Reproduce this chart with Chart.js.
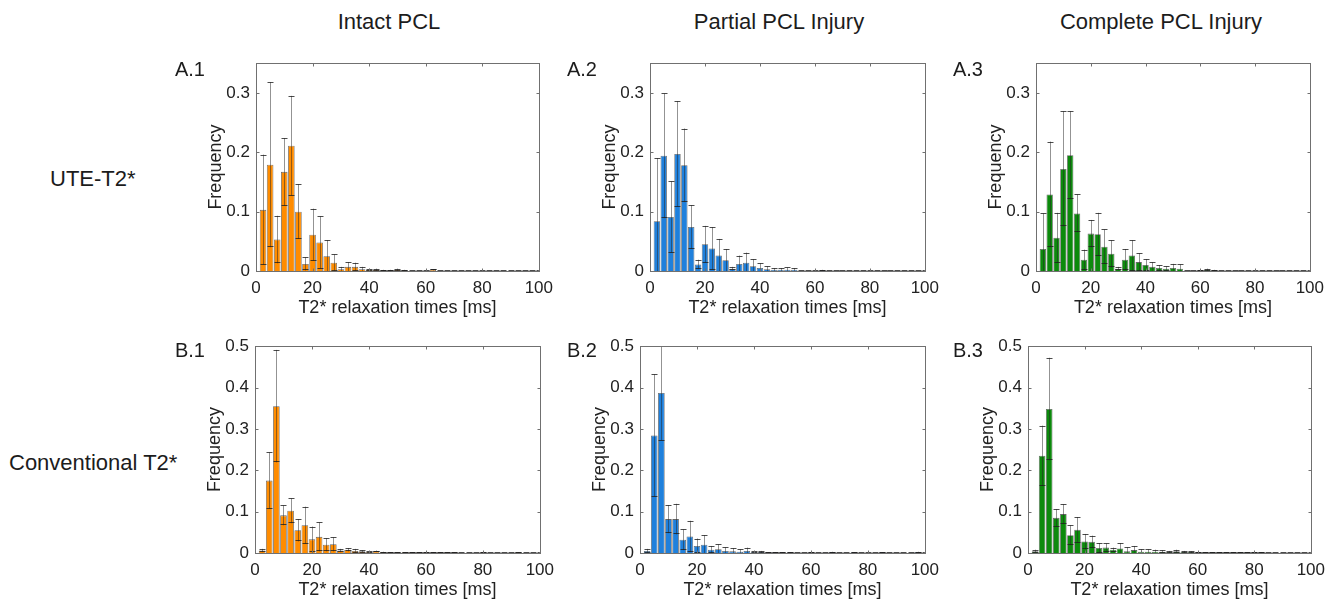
<!DOCTYPE html>
<html>
<head>
<meta charset="utf-8">
<script src="https://cdn.jsdelivr.net/npm/chart.js@4/dist/chart.umd.min.js"></script>
<style>
  body { margin: 0; background: #fff; width: 1343px; height: 608px; position: relative; overflow: hidden;
         font-family: "Liberation Sans", Arial, sans-serif; color: #1c1c1c; }
  .t { position: absolute; white-space: nowrap; }
  canvas { position: absolute; }
</style>
</head>
<body>
<div class="t" style="left:389px;top:9px;font-size:22px;line-height:26px;transform:translateX(-50%)">Intact PCL</div>
<div class="t" style="left:779px;top:9px;font-size:22px;line-height:26px;transform:translateX(-50%)">Partial PCL Injury</div>
<div class="t" style="left:1161px;top:9px;font-size:22px;line-height:26px;transform:translateX(-50%)">Complete PCL Injury</div>
<div class="t" style="left:50px;top:166px;font-size:22px;line-height:26px">UTE-T2*</div>
<div class="t" style="left:9px;top:450px;font-size:22px;line-height:26px">Conventional T2*</div>

<script>
// histogram bins (ms), 2.5 ms wide
const BIN_CENTERS = Array.from({length: 40}, (_, i) => 2.5 * (i + 1));
const X_TICKS_STEP = 20;
const Y_TICKS_STEP = 0.1;

// UTE-T2* (row A)
const intactUte     = [0.103,0.179,0.053,0.167,0.211,0.100,0.012,0.061,0.048,0.025,0.014,0.003,0.007,0.007,0.003,0.002,0.002,0.001,0.001,0.002,0.001,0,0,0,0.002,0,0,0,0,0,0,0,0,0,0,0,0,0,0,0];
const intactUteSd   = [0.093,0.139,0.040,0.057,0.084,0.046,0.011,0.044,0.044,0.027,0.014,0.004,0.008,0.007,0.004,0.002,0.002,0.001,0.001,0.002,0.001,0,0,0,0.001,0,0,0,0,0,0,0,0,0,0,0,0,0,0,0];
const partialUte    = [0.084,0.194,0.091,0.197,0.178,0.074,0.011,0.045,0.038,0.026,0.018,0.004,0.012,0.014,0.008,0.005,0.003,0.002,0.002,0.002,0.002,0,0,0,0.001,0,0,0,0,0,0,0,0,0,0,0,0,0,0,0];
const partialUteSd  = [0.106,0.105,0.060,0.089,0.062,0.037,0.008,0.031,0.036,0.028,0.019,0.003,0.014,0.017,0.012,0.008,0.005,0.003,0.003,0.004,0.003,0,0,0,0.001,0,0,0,0,0,0,0,0,0,0,0,0,0,0,0];
const completeUte   = [0.037,0.129,0.056,0.172,0.195,0.097,0.019,0.063,0.062,0.041,0.029,0.004,0.019,0.026,0.015,0.010,0.007,0.005,0.004,0.005,0.004,0,0,0.001,0.002,0.001,0,0,0,0,0,0,0,0,0,0,0,0,0,0];
const completeUteSd = [0.060,0.089,0.042,0.097,0.074,0.032,0.017,0.023,0.036,0.029,0.023,0.003,0.018,0.026,0.015,0.010,0.008,0.005,0.004,0.007,0.007,0,0,0.001,0.002,0.001,0,0,0,0,0,0,0,0,0,0,0,0,0,0];

// conventional T2* (row B)
const intactConv     = [0.006,0.175,0.355,0.091,0.102,0.055,0.067,0.033,0.039,0.020,0.021,0.006,0.008,0.005,0.004,0.002,0.004,0.002,0.001,0.001,0.001,0.001,0.001,0.001,0.001,0.001,0.001,0.001,0,0,0,0.001,0,0,0,0,0.001,0,0,0];
const intactConvSd   = [0.004,0.068,0.136,0.024,0.030,0.027,0.045,0.031,0.035,0.016,0.017,0.004,0.004,0.005,0.003,0.002,0.002,0.001,0.001,0.001,0.001,0.001,0.001,0.001,0.001,0.001,0.001,0.001,0,0,0,0.001,0,0,0,0,0.001,0,0,0];
const partialConv    = [0.005,0.284,0.387,0.082,0.082,0.032,0.040,0.017,0.020,0.008,0.009,0.005,0.004,0.003,0.005,0.002,0.002,0.001,0.001,0.001,0.001,0,0,0.001,0,0,0.002,0,0,0.001,0,0,0,0.001,0,0,0,0,0.002,0];
const partialConvSd  = [0.005,0.148,0.115,0.034,0.037,0.025,0.038,0.018,0.023,0.009,0.012,0.009,0.008,0.006,0.008,0.003,0.003,0.001,0.001,0.001,0.001,0,0,0.001,0,0,0.001,0,0,0.001,0,0,0,0.001,0,0,0,0,0.001,0];
const completeConv   = [0.004,0.235,0.348,0.085,0.094,0.043,0.056,0.028,0.027,0.012,0.013,0.008,0.011,0.004,0.007,0.003,0.003,0.003,0.003,0.002,0.004,0.002,0.002,0.001,0.001,0.001,0.001,0.001,0.001,0.001,0.001,0.001,0.001,0,0,0,0,0,0,0];
const completeConvSd = [0.004,0.073,0.124,0.021,0.024,0.024,0.031,0.018,0.015,0.012,0.010,0.005,0.013,0.010,0.010,0.006,0.006,0.005,0.004,0.003,0.004,0.003,0.002,0.001,0.001,0.001,0.001,0.001,0.001,0.001,0.001,0.001,0.001,0,0,0,0,0,0,0];

const ORANGE = '#ff8c00';
const BLUE = '#1f80dc';
const GREEN = '#0c8a0c';
const TEXT = '#222222';

const AX_W = 55, AX_H = 52, PAD_T = 12, PAD_R = 18;

// mean +/- sd whiskers, drawn through the y scale
const errorBars = {
  id: 'errorBars',
  afterDatasetsDraw(chart) {
    const {ctx, chartArea: a, scales: {y}} = chart;
    const ds = chart.data.datasets[0];
    const meta = chart.getDatasetMeta(0);
    ctx.save();
    ctx.beginPath();
    ctx.rect(a.left, a.top, a.right - a.left, a.bottom - a.top + 1);
    ctx.clip();
    meta.data.forEach((bar, i) => {
      const v = ds.data[i].y, e = ds.sd[i];
      const yHi = y.getPixelForValue(v + e);
      const yLo = y.getPixelForValue(v - e);
      const x = Math.round(bar.x) + 0.5;
      ctx.lineWidth = 1;
      ctx.strokeStyle = 'rgba(40,40,40,0.5)';
      ctx.beginPath();
      ctx.moveTo(x, yLo);
      ctx.lineTo(x, yHi);
      ctx.stroke();
      ctx.strokeStyle = 'rgba(30,30,30,0.8)';
      ctx.beginPath();
      ctx.moveTo(x - 3, Math.round(yHi) + 0.5);
      ctx.lineTo(x + 3, Math.round(yHi) + 0.5);
      ctx.moveTo(x - 3, Math.round(yLo) - 0.5);
      ctx.lineTo(x + 3, Math.round(yLo) - 0.5);
      ctx.stroke();
    });
    ctx.restore();
  }
};

// full box with inward ticks like matlab axes
const matlabBox = {
  id: 'matlabBox',
  afterDraw(chart) {
    const {ctx, chartArea: a, scales: {x, y}} = chart;
    const L = Math.round(a.left) + 0.5, R = Math.round(a.right) + 0.5;
    const T = Math.round(a.top) + 0.5, B = Math.round(a.bottom) + 0.5;
    ctx.save();
    ctx.strokeStyle = '#707070';
    ctx.lineWidth = 1;
    ctx.strokeRect(L, T, R - L, B - T);
    ctx.beginPath();
    x.ticks.forEach(t => {
      const px = Math.round(x.getPixelForValue(t.value)) + 0.5;
      if (px <= L + 1 || px >= R - 1) return;
      ctx.moveTo(px, B); ctx.lineTo(px, B - 3);
      ctx.moveTo(px, T); ctx.lineTo(px, T + 3);
    });
    y.ticks.forEach(t => {
      const py = Math.round(y.getPixelForValue(t.value)) + 0.5;
      if (py >= B - 1 || py <= T + 1) return;
      ctx.moveTo(L, py); ctx.lineTo(L + 3, py);
      ctx.moveTo(R, py); ctx.lineTo(R - 3, py);
    });
    ctx.stroke();
    ctx.restore();
  }
};

function panel(box, label, labelRight, vals, sds, color, yMax) {
  const cv = document.createElement('canvas');
  cv.width = box.w + AX_W + PAD_R;
  cv.height = box.h + PAD_T + AX_H;
  cv.style.left = (box.x - AX_W) + 'px';
  cv.style.top = (box.y - PAD_T) + 'px';
  document.body.appendChild(cv);

  const lab = document.createElement('div');
  lab.className = 't';
  lab.textContent = label;
  lab.style.cssText = `left:${labelRight}px;top:${box.labelY - 12}px;font-size:20px;line-height:24px;transform:translateX(-100%)`;
  document.body.appendChild(lab);

  new Chart(cv, {
    type: 'bar',
    data: {
      datasets: [{
        data: BIN_CENTERS.map((c, i) => ({x: c, y: vals[i]})),
        sd: sds,
        backgroundColor: color,
        borderColor: 'rgba(50,50,50,0.75)',
        borderWidth: 0.8,
        categoryPercentage: 1,
        barPercentage: 0.93
      }]
    },
    options: {
      responsive: false,
      animation: false,
      events: [],
      layout: {padding: {top: PAD_T, right: PAD_R, left: 0, bottom: 0}},
      plugins: {legend: {display: false}, tooltip: {enabled: false}},
      scales: {
        x: {
          type: 'linear', min: 0, max: 100, offset: false,
          grid: {display: false, drawTicks: false},
          border: {display: false},
          ticks: {stepSize: X_TICKS_STEP, padding: 7, color: TEXT, maxRotation: 0,
                  font: {family: 'Liberation Sans', size: 17}},
          title: {display: true, text: 'T2* relaxation times [ms]', color: TEXT,
                  font: {family: 'Liberation Sans', size: 18}},
          afterFit: s => { s.height = AX_H; }
        },
        y: {
          min: 0, max: yMax,
          grid: {display: false, drawTicks: false},
          border: {display: false},
          ticks: {stepSize: Y_TICKS_STEP, includeBounds: false, padding: 6, color: TEXT,
                  font: {family: 'Liberation Sans', size: 17}},
          title: {display: true, text: 'Frequency', color: TEXT,
                  font: {family: 'Liberation Sans', size: 18}},
          afterFit: s => { s.width = AX_W; }
        }
      }
    },
    plugins: [errorBars, matlabBox]
  });
}

panel({x: 256, y: 59, w: 286, h: 212, labelY: 69}, 'A.1', 205, intactUte, intactUteSd, ORANGE, 0.35);
panel({x: 650, y: 59, w: 278, h: 212, labelY: 69}, 'A.2', 597, partialUte, partialUteSd, BLUE, 0.35);
panel({x: 1036, y: 59, w: 277, h: 212, labelY: 69}, 'A.3', 983, completeUte, completeUteSd, GREEN, 0.35);
panel({x: 255, y: 342, w: 288, h: 211, labelY: 350}, 'B.1', 205, intactConv, intactConvSd, ORANGE, 0.5);
panel({x: 640, y: 342, w: 288, h: 211, labelY: 350}, 'B.2', 597, partialConv, partialConvSd, BLUE, 0.5);
panel({x: 1028, y: 342, w: 286, h: 211, labelY: 350}, 'B.3', 983, completeConv, completeConvSd, GREEN, 0.5);
</script>
</body>
</html>
